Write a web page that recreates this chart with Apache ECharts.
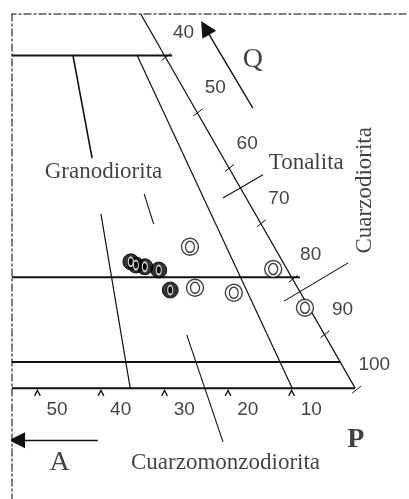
<!DOCTYPE html>
<html><head><meta charset="utf-8">
<script src="https://cdn.jsdelivr.net/npm/echarts@6/dist/echarts.min.js"></script>
<style>html,body{margin:0;padding:0;background:#fff}#c{width:409px;height:499px}</style>
</head><body><div id="c"></div>
<script>
// Right-edge (Q) tick values and bottom (A) tick values
const rightTicks = [40, 50, 60, 70, 80, 90, 100];
const bottomTicks = [50, 40, 30, 20, 10];
// Samples: hollow double-circle samples and filled samples [x, y]
const hollowPts = [[26.0, 74.5], [12.9, 78.5], [25.2, 81.9], [19.1, 82.8], [7.9, 85.5]];
const filledPts = [[35.3, 77.2], [34.5, 77.8], [33.1, 78.1], [30.9, 78.7], [29.1, 82.3]];
// Horizontal field boundaries: [y, xEnd]
const hLevels = [40, 80, 95.3, 100];
const hEnds = [28.8, 8.7, 2.4, 0];
const leftX = 54;
// Diagram outer edge Q-P
const edgeLine = [[33.75, 32.5], [0, 100]];
// Field boundaries
const dividers = [
  [[44.4, 40], [41.4, 58.5]],
  [[34.3, 40], [9.9, 100]],
  [[40.0, 68.6], [35.4, 100]]
];
// Leader lines of field names
const pointers = [
  [[33.2, 65.0], [31.7, 70.4]],
  [[26.5, 90.4], [20.8, 109.7]],
  [[20.8, 65.7], [14.5, 61.5]],
  [[11.2, 84.3], [1.1, 77.4]]
];
// Arrows toward Q and A
const arrows = [
  [[16.1, 49.5], [23.6, 35.0]],
  [[40.5, 109.4], [53.2, 109.4]]
];
// Field names
const fieldNames = ['Granodiorita', 'Tonalita', 'Cuarzomonzodiorita'];
const fieldPos = [[39.6, 61.0], [7.7, 59.4], [20.4, 113.5]];
const vertName = 'Cuarzodiorita';
const vertPos = [-1.54, 64.3];
const poleNames = ['Q', 'P', 'A'];
const polePos = [[16.1, 40.8], [-0.1, 109.4], [46.5, 113.5]];

const edgeX = v => (100 - v) / 2;
const bottomLabelY = 103.9;

const segs = [];
hLevels.forEach((y, i) => segs.push({coords: [[leftX, y], [hEnds[i], y]], lineStyle: {width: 2}}));
segs.push({coords: edgeLine, lineStyle: {width: 1.2}});
dividers.forEach((d, i) => segs.push({coords: d, lineStyle: {width: i === 0 ? 1.6 : 1.2}}));
pointers.forEach(d => segs.push({coords: d, lineStyle: {width: 1.1}}));
rightTicks.forEach(v => {
  const x = edgeX(v);
  segs.push({coords: [[x + 0.47, v + 0.9], [x - 0.94, v - 0.36]], lineStyle: {width: 1}});
});
bottomTicks.forEach(v => {
  segs.push({coords: [[v + 0.45, 101.4], [v, 100.4], [v - 0.45, 101.4]], lineStyle: {width: 1.3}});
});

const serif = 'Liberation Serif';
const sans = 'Liberation Sans';
const textPt = (pos, text, style) => ({value: pos, name: text, label: Object.assign({show: true, formatter: text}, style)});

const texts = [];
rightTicks.forEach(v => texts.push(textPt([edgeX(v) - 3.0, v - 4.15], String(v), {fontFamily: sans, fontSize: 19})));
bottomTicks.forEach(v => texts.push(textPt([v - 3.1, bottomLabelY], String(v), {fontFamily: sans, fontSize: 19})));
fieldNames.forEach((n, i) => texts.push(textPt(fieldPos[i], n, {fontFamily: serif, fontSize: 23})));
texts.push(textPt(vertPos, vertName, {fontFamily: serif, fontSize: 23, rotate: 90}));
texts.push(textPt(polePos[0], poleNames[0], {fontFamily: serif, fontSize: 28}));
texts.push(textPt(polePos[1], poleNames[1], {fontFamily: serif, fontSize: 28, fontWeight: 'bold'}));
texts.push(textPt(polePos[2], poleNames[2], {fontFamily: serif, fontSize: 28}));

const chart = echarts.init(document.getElementById('c'), null, {renderer: 'canvas'});
chart.setOption({
  animation: false,
  backgroundColor: '#fff',
  grid: {left: 12, right: 3, top: 14, bottom: 0},
  xAxis: {type: 'value', min: -8, max: 54, inverse: true, position: 'top',
    axisLine: {show: true, lineStyle: {color: '#555', width: 1.5, type: [7, 3, 2, 3]}},
    axisTick: {show: false}, axisLabel: {show: false}, splitLine: {show: false}},
  yAxis: {type: 'value', min: 32.5, max: 120, inverse: true, position: 'left',
    axisLine: {show: true, onZero: false, lineStyle: {color: '#555', width: 1.5, type: [7, 3, 2, 3]}},
    axisTick: {show: false}, axisLabel: {show: false}, splitLine: {show: false}},
  series: [
    {type: 'lines', coordinateSystem: 'cartesian2d', polyline: true, silent: true,
     lineStyle: {color: '#111', opacity: 1}, data: segs},
    {type: 'lines', coordinateSystem: 'cartesian2d', silent: true,
     symbol: ['none', 'triangle'], symbolSize: [14, 16],
     lineStyle: {color: '#111', width: 1.4, opacity: 1}, itemStyle: {color: '#111'},
     data: arrows.map(a => ({coords: a}))},
    {type: 'scatter', symbol: 'circle', symbolSize: 17, z: 5,
     itemStyle: {color: '#fff', borderColor: '#111', borderWidth: 1.4}, data: hollowPts},
    {type: 'scatter', symbol: 'circle', symbolSize: [9, 11], z: 6,
     itemStyle: {color: '#fff', borderColor: '#111', borderWidth: 1.4}, data: hollowPts},
    {type: 'scatter', symbol: 'circle', symbolSize: 16, z: 5,
     itemStyle: {color: '#000', borderColor: '#000', borderWidth: 1}, data: filledPts},
    {type: 'scatter', symbol: 'circle', symbolSize: [5, 9], z: 6,
     itemStyle: {color: '#000', borderColor: '#fff', borderWidth: 1.5}, data: filledPts},
    {type: 'scatter', symbolSize: 0, z: 10, silent: true,
     label: {show: true, position: 'inside', color: '#111', align: 'center', verticalAlign: 'middle'},
     data: texts}
  ]
});
</script></body></html>
